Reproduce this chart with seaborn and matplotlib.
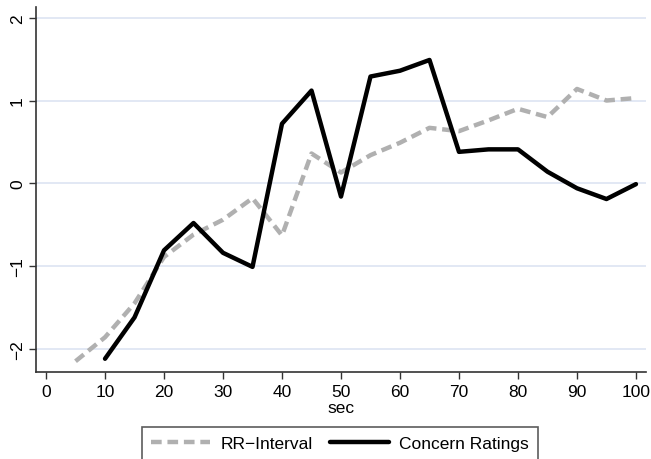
import numpy as np
import pandas as pd
import matplotlib
matplotlib.use("Agg")
import matplotlib.pyplot as plt
import seaborn as sns

sec_rr = [5, 10, 15, 20, 25, 30, 35, 40, 45, 50, 55, 60, 65, 70, 75, 80, 85, 90, 95, 100]
rr_interval = [-2.15, -1.86, -1.45, -0.89, -0.62, -0.44, -0.18, -0.63, 0.36, 0.13, 0.34,
               0.49, 0.67, 0.63, 0.76, 0.90, 0.80, 1.14, 1.00, 1.03]
sec_cr = [10, 15, 20, 25, 30, 35, 40, 45, 50, 55, 60, 65, 70, 75, 80, 85, 90, 95, 100]
concern = [-2.12, -1.62, -0.81, -0.48, -0.84, -1.01, 0.72, 1.12, -0.16, 1.29, 1.36, 1.49,
           0.38, 0.41, 0.41, 0.14, -0.06, -0.19, -0.01]
x_ticks = [0, 10, 20, 30, 40, 50, 60, 70, 80, 90, 100]
y_ticks = [-2, -1, 0, 1, 2]

sns.set_style("white")
plt.rcParams['font.family'] = ['Liberation Sans', 'DejaVu Sans']
plt.rcParams['text.color'] = 'black'
plt.rcParams['axes.labelcolor'] = 'black'
plt.rcParams['xtick.color'] = 'black'
plt.rcParams['ytick.color'] = 'black'

df_rr = pd.DataFrame({"sec": sec_rr, "val": rr_interval})
df_cr = pd.DataFrame({"sec": sec_cr, "val": concern})

fig = plt.figure(figsize=(6.51, 4.60), dpi=100)
ax = fig.add_axes([36/651, 1 - 373/460, (646-36)/651, (373-8)/460])

for y in y_ticks:
    ax.axhline(y, color="#dde4f2", lw=1.2, zorder=0)

sns.lineplot(data=df_rr, x="sec", y="val", ax=ax, color="#b0b0b0", lw=3.2,
             dashes=False, label="RR\u2212Interval")
ax.lines[-1].set_linestyle((0, (2.4, 1.3)))
sns.lineplot(data=df_cr, x="sec", y="val", ax=ax, color="black", lw=3.2,
             label="Concern Ratings")

ax.set_xlim(-1.7, 101.7)
ax.set_ylim(-2.28, 2.13)
ax.set_xticks(x_ticks)
ax.set_yticks(y_ticks)
ax.set_yticklabels([str(v).replace("-", "\u2212") for v in y_ticks], rotation=90, va="center")
ax.tick_params(axis="both", labelsize=12.5, length=5, width=1, color="#333333", labelcolor="black",
               direction="out", bottom=True, left=True)
ax.tick_params(axis="y", pad=3)
ax.set_xlabel("sec", fontsize=12.5, labelpad=1, color="black")
ax.set_ylabel("")
for s in ["top", "right"]:
    ax.spines[s].set_visible(False)
for s in ["left", "bottom"]:
    ax.spines[s].set_color("#333333")
    ax.spines[s].set_linewidth(1.2)

leg = ax.legend(loc="upper center", bbox_to_anchor=(340/651, 1 - 428/460),
                bbox_transform=fig.transFigure, ncol=2, frameon=True, fancybox=False,
                fontsize=12.5, handlelength=3.4, columnspacing=1.0, handletextpad=0.6,
                borderpad=0.5, borderaxespad=0)
leg.get_frame().set_edgecolor("#333333")
leg.get_frame().set_linewidth(1.2)
for t in leg.get_texts():
    t.set_color("black")

fig.savefig("out.png", dpi=100)
